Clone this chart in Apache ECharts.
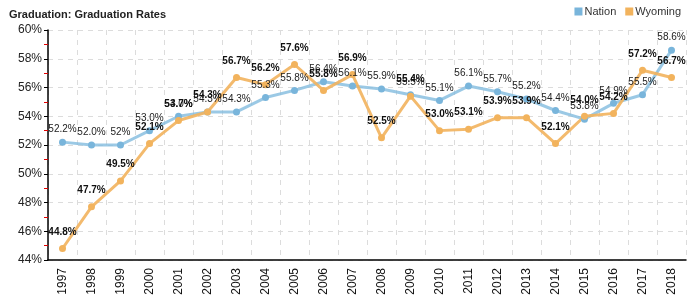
<!DOCTYPE html>
<html><head><meta charset="utf-8">
<script src="https://cdn.jsdelivr.net/npm/echarts@6/dist/echarts.min.js"></script>
<style>html,body{margin:0;padding:0;background:#fff}#c{width:700px;height:300px}</style>
</head><body><div id="c"></div>
<script>
var years = ['1997','1998','1999','2000','2001','2002','2003','2004','2005','2006','2007','2008','2009','2010','2011','2012','2013','2014','2015','2016','2017','2018'];
var nationValues = ['52.2','52.0','52','53.0','54.0','54.3','54.3','55.3','55.8','56.4','56.1','55.9','55.5','55.1','56.1','55.7','55.2','54.4','53.8','54.9','55.5','58.6'];
var wyomingValues = ['44.8','47.7','49.5','52.1','53.7','54.3','56.7','56.2','57.6','55.8','56.9','52.5','55.4','53.0','53.1','53.9','53.9','52.1','54.0','54.2','57.2','56.7'];
var yTicks = [44, 46, 48, 50, 52, 54, 56, 58, 60];

var chart = echarts.init(document.getElementById('c'));
var FONT = 'Liberation Sans, Arial, sans-serif';
function lbl(p){ return p.value + '%'; }
chart.setOption({
  animation: false,
  textStyle: {fontFamily: FONT},
  title: {text: 'Graduation: Graduation Rates', left: 4, top: 4,
    textStyle: {fontSize: 11, fontWeight: 'bold', color: '#222', fontFamily: FONT}},
  legend: {right: 14, top: 1, itemWidth: 8, itemHeight: 8, itemGap: 9, icon: 'rect',
    textStyle: {fontSize: 11, color: '#333', padding: [0, 0, 0, -3]},
    data: ['Nation', 'Wyoming']},
  grid: {left: 48, right: 14, top: 30, bottom: 40},
  xAxis: {type: 'category', data: years, boundaryGap: true,
    axisLine: {lineStyle: {color: '#000', width: 1.5}},
    axisTick: {alignWithLabel: true, length: 4, inside: false, lineStyle: {color: '#000'}},
    axisLabel: {rotate: 90, fontSize: 12, color: '#111', margin: 8},
    splitLine: {show: true, lineStyle: {type: [5, 5], color: '#dcdcdc'}}},
  yAxis: {type: 'value', min: yTicks[0], max: yTicks[yTicks.length - 1], interval: 2,
    axisLine: {show: true, lineStyle: {color: '#000', width: 1.5}},
    axisTick: {show: true, length: 4, lineStyle: {color: '#000'}},
    minorTick: {show: true, splitNumber: 2, length: 4, lineStyle: {color: '#e00000'}},
    axisLabel: {fontSize: 12, color: '#222', margin: 6, formatter: '{value}%'},
    splitLine: {show: true, lineStyle: {type: [5, 5], color: '#dcdcdc'}}},
  series: [
    {name: 'Nation', type: 'line', data: nationValues, color: '#77b4da',
      symbol: 'circle', symbolSize: 7,
      lineStyle: {width: 3, color: 'rgba(130,187,222,0.8)'},
      itemStyle: {color: '#79b5db'},
      label: {show: true, position: 'top', distance: 4, fontSize: 10, color: '#222', formatter: lbl}},
    {name: 'Wyoming', type: 'line', data: wyomingValues, color: '#f2b35d',
      symbol: 'circle', symbolSize: 7,
      lineStyle: {width: 3, color: 'rgba(242,179,93,0.9)'},
      itemStyle: {color: '#f2b35d'},
      label: {show: true, position: 'top', distance: 8, fontSize: 10, fontWeight: 'bold', color: '#111', formatter: lbl}}
  ]
});
</script></body></html>
